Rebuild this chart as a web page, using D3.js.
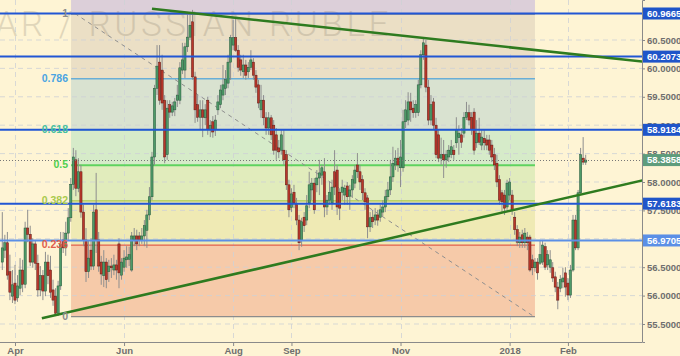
<!DOCTYPE html>
<html>
<head>
<meta charset="utf-8">
<script src="https://cdn.jsdelivr.net/npm/d3@7"></script>
<style>
  html, body { margin: 0; padding: 0; background: #fef4d4; }
  svg { display: block; font-family: "Liberation Sans", Arial, sans-serif; }
</style>
</head>
<body>
<div id="chart"></div>
<script>
// daily USD/RUB candles, 27 Mar 2017 .. 12 Feb 2018 (weekdays)
const opens = [56.59,56.80,56.93,56.42,55.99,56.22,55.96,56.13,56.45,56.20,57.19,57.08,56.59,56.91,56.57,56.10,56.35,56.08,56.59,56.45,
  56.10,55.99,55.69,56.17,56.98,56.84,57.10,57.37,57.96,58.39,57.89,58.18,57.47,56.98,56.42,56.80,56.52,57.51,56.98,56.59,
  56.35,56.59,56.42,56.52,56.45,56.54,56.91,56.36,56.50,56.63,56.64,56.45,56.98,57.05,57.05,56.98,57.05,57.15,57.42,57.74,
  58.44,59.65,60.11,59.97,59.44,58.48,59.36,59.23,59.27,59.44,59.44,59.97,59.97,60.38,60.55,60.82,59.85,59.36,59.14,59.27,
  59.13,59.44,58.92,59.06,58.92,59.27,59.36,59.53,59.65,59.74,60.11,60.41,60.54,60.32,60.15,59.94,60.06,59.94,60.02,60.11,
  59.88,59.71,59.27,59.44,59.13,58.95,59.13,59.00,58.83,58.60,58.56,58.56,58.48,57.95,57.55,57.82,57.60,57.33,56.98,57.38,
  57.33,57.63,57.86,57.98,57.95,58.07,58.12,58.18,57.56,57.68,57.63,58.18,58.21,57.82,57.82,57.77,57.93,57.75,57.86,57.98,
  58.30,58.18,58.04,57.81,57.72,57.21,57.38,57.33,57.42,57.38,57.47,57.56,57.74,57.86,58.09,58.30,58.42,58.25,58.25,59.06,
  59.09,59.41,59.30,59.22,59.22,59.71,60.24,60.41,59.67,59.09,59.41,59.00,58.83,58.42,58.48,58.39,58.44,58.48,58.56,58.69,
  58.78,58.83,58.86,59.14,59.22,59.14,59.23,58.69,58.86,58.65,58.77,58.74,58.74,58.65,58.48,58.33,58.04,57.81,57.77,57.56,
  57.77,57.77,57.38,57.16,56.93,57.07,56.93,57.03,57.03,56.63,56.49,56.59,56.57,56.59,56.86,56.54,56.50,56.49,56.33,56.15,
  56.13,56.24,56.40,56.22,56.01,56.45,57.33,56.84,57.81,58.42,58.35];
const highs = [57.47,57.07,57.12,56.72,56.45,56.54,56.36,56.66,56.63,57.30,57.51,57.23,57.01,56.98,56.72,56.52,56.45,56.77,56.72,56.70,
  56.28,56.13,56.26,57.12,57.12,57.30,57.54,58.07,58.60,58.56,58.42,58.30,57.60,57.19,56.98,57.01,57.60,58.16,57.12,56.70,
  56.80,56.66,56.63,56.66,56.72,56.63,57.01,56.66,56.80,56.87,56.86,57.12,57.19,57.16,57.12,57.19,57.33,57.51,57.91,58.53,
  59.71,60.41,60.41,60.24,59.53,59.44,59.44,59.41,59.48,59.71,60.11,60.45,60.45,60.98,60.99,61.03,59.94,59.53,59.44,59.44,
  59.37,59.50,59.09,59.16,59.18,59.53,59.71,60.06,59.97,60.24,60.59,60.85,60.89,60.41,60.24,60.24,60.15,60.11,60.32,60.18,
  59.97,59.80,59.71,59.53,59.23,59.23,59.18,59.09,58.95,58.74,58.92,58.92,58.56,58.04,57.89,57.95,57.72,57.42,57.37,57.47,
  57.77,58.18,58.07,58.07,58.21,58.39,58.30,58.42,57.77,58.00,58.04,58.56,58.30,57.89,58.04,57.95,58.00,57.95,58.12,58.30,
  58.51,58.30,58.12,57.89,57.77,57.47,57.51,57.54,57.51,57.60,57.68,57.86,58.00,58.39,58.62,58.56,58.60,58.74,59.27,59.44,
  59.58,59.57,59.44,59.44,59.80,60.32,60.54,60.50,59.80,59.53,59.48,59.13,58.92,58.78,58.74,58.56,58.65,58.74,58.65,59.14,
  59.00,58.95,59.23,59.41,59.36,59.23,59.30,59.09,59.13,58.92,58.92,58.83,58.83,58.74,58.60,58.48,58.12,57.86,57.86,58.04,
  58.07,57.86,57.47,57.24,57.12,57.16,57.19,57.12,57.07,56.72,56.66,56.66,56.98,56.98,56.93,56.80,56.80,56.59,56.42,56.24,
  56.36,56.49,56.50,56.31,56.54,57.42,57.42,57.86,58.60,58.79,58.48];
const lows = [56.45,56.66,56.28,55.92,55.87,55.85,55.89,56.01,56.06,56.13,56.94,56.52,56.49,56.45,55.98,55.99,55.92,55.99,56.20,55.96,
  55.82,55.64,55.64,56.10,56.75,56.70,56.98,57.30,57.86,57.75,57.82,57.37,56.87,56.24,56.31,56.45,56.45,56.75,56.42,56.19,
  56.15,56.13,56.24,56.31,56.36,56.28,56.13,56.28,56.42,56.49,56.52,56.42,56.87,56.80,56.87,56.91,56.87,56.84,57.33,57.68,
  58.30,59.53,59.36,59.27,58.33,58.39,59.13,59.16,59.16,59.32,59.37,59.90,59.83,60.29,60.50,59.80,59.04,59.06,58.92,58.79,
  59.00,58.83,58.79,58.78,58.81,59.18,59.30,59.44,59.53,59.65,59.80,60.32,60.29,59.94,59.87,59.83,59.80,59.83,59.97,59.80,
  59.57,59.30,59.13,59.00,58.83,58.83,58.74,58.48,58.39,58.42,58.48,58.30,57.86,57.38,57.47,57.54,57.24,56.80,56.86,57.12,
  57.24,57.54,57.68,57.44,57.82,57.77,57.95,57.38,57.42,57.60,57.51,57.77,57.42,57.33,57.68,57.60,57.60,57.51,57.72,57.89,
  58.07,57.86,57.68,57.51,57.01,57.12,57.19,57.24,57.23,57.30,57.40,57.47,57.68,57.77,58.00,58.21,58.18,57.91,58.18,58.95,
  59.00,59.06,59.13,59.13,59.16,59.65,60.15,59.58,59.00,59.00,58.92,58.42,58.35,58.30,58.07,58.25,58.35,58.42,58.39,58.60,
  58.48,58.60,58.78,59.09,59.00,58.83,58.48,58.60,58.65,58.56,58.56,58.56,58.48,58.35,58.21,57.91,57.60,57.47,57.42,57.51,
  57.68,57.42,57.07,56.87,56.84,56.84,56.84,56.80,56.42,56.36,56.42,56.28,56.54,56.54,56.45,56.45,56.40,56.24,56.06,55.76,
  56.06,56.13,55.98,55.92,55.96,56.42,56.80,56.80,57.77,58.30,58.30];
const closes = [56.84,56.93,56.36,56.06,56.19,55.92,56.17,56.45,56.20,57.19,57.08,56.59,56.91,56.57,56.10,56.35,56.08,56.59,56.35,56.06,
  55.92,55.69,56.17,56.91,56.84,57.10,57.37,57.96,58.44,57.89,58.18,57.47,56.98,56.42,56.66,56.52,57.47,56.98,56.52,56.38,
  56.59,56.28,56.52,56.49,56.54,56.45,56.40,56.59,56.66,56.68,56.72,57.05,57.05,56.91,56.98,57.05,57.23,57.42,57.74,58.44,
  59.65,60.04,59.44,59.39,58.44,59.30,59.23,59.34,59.41,59.53,60.01,60.15,60.38,60.55,60.76,59.85,59.27,59.14,59.27,59.14,
  59.27,58.92,59.00,58.88,59.09,59.41,59.62,59.71,59.80,60.11,60.54,60.54,60.32,60.02,59.97,60.06,59.88,60.02,60.15,59.88,
  59.67,59.39,59.44,59.13,58.95,59.13,58.83,58.56,58.56,58.53,58.83,58.39,57.95,57.51,57.79,57.63,57.33,56.93,57.30,57.23,
  57.58,57.95,57.98,57.51,58.07,58.16,58.25,57.56,57.68,57.82,57.91,57.91,57.56,57.54,57.91,57.89,57.74,57.86,58.04,58.21,
  58.18,58.00,57.81,57.65,57.21,57.37,57.30,57.42,57.33,57.51,57.56,57.74,57.86,58.09,58.33,58.42,58.30,58.44,59.06,59.27,
  59.41,59.27,59.22,59.36,59.71,60.24,60.45,59.67,59.09,59.36,59.00,58.48,58.42,58.48,58.39,58.48,58.56,58.62,58.48,58.92,
  58.86,58.70,59.14,59.22,59.09,58.92,58.56,58.86,58.70,58.79,58.69,58.65,58.56,58.44,58.30,58.00,57.68,57.65,57.54,57.98,
  58.00,57.51,57.16,56.94,57.03,56.93,57.10,56.93,56.45,56.49,56.59,56.40,56.72,56.89,56.50,56.72,56.63,56.31,56.15,55.92,
  56.28,56.31,56.15,56.01,56.45,57.33,56.84,57.81,58.48,58.35,58.3858];

const firstDate = new Date(2017, 2, 27);
const tickMonths = ['2017-04', '2017-06', '2017-08', '2017-09', '2017-11', '2018-01', '2018-02'];
const tickLabels = ['Apr', 'Jun', 'Aug', 'Sep', 'Nov', '2018', 'Feb'];
const priceTicks = [55.5, 56.0, 56.5, 57.0, 57.5, 58.0, 58.5, 59.0, 59.5, 60.0, 60.5];

// horizontal levels drawn on the chart
const keyLevels = [60.9665, 60.2073, 58.9184, 57.6183, 56.9705];
const lastPrice = 58.3858;

// fibonacci retracement drawing (bar index / price anchors)
const fibLevels = [0, 0.236, 0.382, 0.5, 0.618, 0.786, 1];
const fibLow = 55.64, fibHigh = 60.9665;
const fibFromIdx = 27.1, fibToIdx = 210.0;
const fibDiagFrom = [28.6, 60.9665], fibDiagTo = [209.3, 55.64];

// trend lines [barIndex, price]
const upperTrend = [[59, 61.05], [252.5, 60.12]];
const lowerTrend = [[15.6, 55.60], [252.5, 58.03]];

const watermark = 'U.S. DOLLAR / RUSSIAN RUBLE';

// ---- styles ----
const fibStyle = {
  0: { line: '#8c8c8c', text: '#8c8c8c', zone: '#f6caa9' },
  0.236: { line: '#e0604c', text: '#e0604c', zone: '#efeab4' },
  0.382: { line: '#a9c94c', text: '#a9c94c', zone: '#e1ecbc' },
  0.5: { line: '#5fd35f', text: '#4fcf4f', zone: '#d6ebc9' },
  0.618: { line: '#46b89c', text: '#46c0a0', zone: '#d9e2d0' },
  0.786: { line: '#6aaed6', text: '#4aa4e2', zone: '#ebdfc5' },
  1: { line: '#8c8c8c', text: '#8c8c8c', zone: '#dccfd9' }
};

const width = 680, height = 356;
const plotW = 642, plotH = 342;

const dates = [];
for (let d = new Date(firstDate); dates.length < closes.length; d.setDate(d.getDate() + 1)) {
  if (d.getDay() !== 0 && d.getDay() !== 6) dates.push(new Date(d));
}
const monthKey = d3.timeFormat('%Y-%m');
const tickIdx = tickMonths.map(m => dates.findIndex(d => monthKey(d) === m));

const bars = closes.map((c, i) => ({ i, o: opens[i], h: highs[i], l: lows[i], c }));

const x = d3.scaleLinear().domain([-0.91, 252.2]).range([0, plotW]);
const y = d3.scaleLinear().domain([55.183, 61.204]).range([plotH, 0]);

const svg = d3.select('#chart').append('svg')
  .attr('width', width).attr('height', height);

svg.append('rect').attr('width', width).attr('height', height).attr('fill', '#fef4d4');

svg.append('defs').append('clipPath').attr('id', 'plotClip')
  .append('rect').attr('width', plotW).attr('height', plotH);

const plot = svg.append('g').attr('clip-path', 'url(#plotClip)');

// fib zones
const fibPrice = lv => fibLow + lv * (fibHigh - fibLow);
const zoneBands = fibLevels.map((lv, k) => {
  const top = k < fibLevels.length - 1 ? fibPrice(fibLevels[k + 1]) : fibPrice(1.618);
  return { lv, lo: fibPrice(lv), hi: top };
});
plot.selectAll('rect.zone').data(zoneBands).join('rect')
  .attr('class', 'zone')
  .attr('x', x(fibFromIdx))
  .attr('width', x(fibToIdx) - x(fibFromIdx))
  .attr('y', d => y(d.hi))
  .attr('height', d => y(d.lo) - y(d.hi))
  .attr('fill', d => fibStyle[d.lv].zone);

// grid
plot.selectAll('line.hgrid').data(priceTicks).join('line')
  .attr('x1', 0).attr('x2', plotW)
  .attr('y1', d => y(d)).attr('y2', d => y(d))
  .attr('stroke', '#cfd2d6').attr('stroke-width', 1).attr('stroke-dasharray', '5,4').attr('opacity', 0.8);
plot.selectAll('line.vgrid').data(tickIdx).join('line')
  .attr('x1', d => Math.round(x(d)) + 0.5).attr('x2', d => Math.round(x(d)) + 0.5)
  .attr('y1', 0).attr('y2', plotH)
  .attr('stroke', '#cfd2d6').attr('stroke-width', 1).attr('stroke-dasharray', '5,4').attr('opacity', 0.8);

// watermark
plot.append('text')
  .attr('x', 392).attr('y', 36)
  .attr('text-anchor', 'end')
  .style('font-family', 'Roboto, "Liberation Sans", sans-serif')
  .style('font-weight', 300)
  .style('font-size', '35px')
  .style('letter-spacing', '3.6px')
  .attr('fill', '#7a7060').attr('opacity', 0.22)
  .text(watermark);

// fib level lines
plot.selectAll('line.fib').data(fibLevels).join('line')
  .attr('x1', x(fibFromIdx)).attr('x2', x(fibToIdx))
  .attr('y1', d => y(fibPrice(d)) + 0.5).attr('y2', d => y(fibPrice(d)) + 0.5)
  .attr('stroke', d => fibStyle[d].line).attr('stroke-width', d => (d === 0.5 ? 2 : 1.3));

plot.append('line')
  .attr('x1', x(fibDiagFrom[0])).attr('y1', y(fibDiagFrom[1]))
  .attr('x2', x(fibDiagTo[0])).attr('y2', y(fibDiagTo[1]))
  .attr('stroke', '#8f8f8f').attr('stroke-width', 1).attr('stroke-dasharray', '4,4');

// candles
const candle = plot.selectAll('g.candle').data(bars).join('g').attr('class', 'candle');
candle.append('line')
  .attr('x1', d => x(d.i)).attr('x2', d => x(d.i))
  .attr('y1', d => y(d.h)).attr('y2', d => y(d.l))
  .attr('stroke', '#8e8e8e').attr('stroke-width', 1);
candle.append('rect')
  .attr('x', d => x(d.i) - 1.1)
  .attr('width', 2.2)
  .attr('y', d => y(Math.max(d.o, d.c)))
  .attr('height', d => Math.max(1, Math.abs(y(d.o) - y(d.c))))
  .attr('fill', d => (d.c >= d.o ? '#4e9a68' : '#b8372b'))
  .attr('stroke', d => (d.c >= d.o ? '#24573a' : '#5e1b15'))
  .attr('stroke-width', 0.5);

// last price dotted line
plot.append('line')
  .attr('x1', 0).attr('x2', plotW)
  .attr('y1', Math.round(y(lastPrice)) + 0.5).attr('y2', Math.round(y(lastPrice)) + 0.5)
  .attr('stroke', '#777').attr('stroke-width', 1).attr('stroke-dasharray', '1,2');

// key horizontal levels
plot.selectAll('line.level').data(keyLevels).join('line')
  .attr('x1', 0).attr('x2', plotW)
  .attr('y1', d => y(d)).attr('y2', d => y(d))
  .attr('stroke', (d, k) => (k === keyLevels.length - 1 ? '#5b8fe6' : '#2156d4'))
  .attr('stroke-width', 2);

// trend lines
const line = d3.line().x(d => x(d[0])).y(d => y(d[1]));
plot.selectAll('path.trend').data([upperTrend, lowerTrend]).join('path')
  .attr('d', line)
  .attr('fill', 'none')
  .attr('stroke', '#2e7b1f')
  .attr('stroke-width', 2.6);

// fib labels
svg.selectAll('text.fibLabel').data(fibLevels).join('text')
  .attr('x', x(fibFromIdx) - 3)
  .attr('y', d => y(fibPrice(d)))
  .attr('dy', '0.35em')
  .attr('text-anchor', 'end')
  .style('font-size', '10.5px')
  .style('font-weight', 'bold')
  .attr('fill', d => fibStyle[d].text)
  .text(d => String(d));

// right axis
const yAxis = svg.append('g')
  .attr('transform', `translate(${plotW},0)`)
  .call(d3.axisRight(y).tickValues(priceTicks).tickFormat(d3.format('.4f')).tickSize(3).tickPadding(2));
yAxis.select('.domain').attr('stroke', '#8a8a8a');
yAxis.selectAll('.tick line').attr('stroke', '#8a8a8a');
yAxis.selectAll('text').attr('fill', '#6e6e6e')
  .style('font-size', '9.5px').style('font-weight', 'bold')
  .style('font-family', '"Liberation Sans", Arial, sans-serif');

// bottom axis
const xAxis = svg.append('g')
  .attr('transform', `translate(0,${plotH})`)
  .call(d3.axisBottom(x).tickValues(tickIdx).tickFormat((d, k) => tickLabels[k]).tickSize(4).tickPadding(1));
xAxis.select('.domain').attr('stroke', '#8a8a8a').attr('d', `M0,0.5H${plotW}`);
xAxis.selectAll('.tick line').attr('stroke', '#8a8a8a');
xAxis.selectAll('text').attr('fill', '#6e6e6e')
  .style('font-size', '9.5px').style('font-weight', 'bold')
  .style('font-family', '"Liberation Sans", Arial, sans-serif');

// price labels on the axis
const tags = keyLevels.map((v, k) => ({ v, fill: k === keyLevels.length - 1 ? '#5b8fe6' : '#1f55c9' }))
  .concat([{ v: lastPrice, fill: '#5e9c7c' }]);
const tag = svg.selectAll('g.tag').data(tags).join('g')
  .attr('class', 'tag')
  .attr('transform', d => `translate(${plotW + 1},${y(d.v)})`);
tag.append('rect')
  .attr('x', 0).attr('y', -6).attr('width', width - plotW - 1).attr('height', 12)
  .attr('fill', d => d.fill);
tag.append('text')
  .attr('x', 4).attr('dy', '0.35em')
  .attr('fill', '#fff')
  .style('font-size', '9.5px').style('font-weight', 'bold')
  .text(d => d.v.toFixed(4));
</script>
</body>
</html>
